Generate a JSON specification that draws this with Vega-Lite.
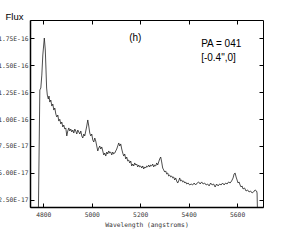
{
  "$schema": "https://vega.github.io/schema/vega-lite/v6.json",
  "width": 233,
  "height": 187,
  "autosize": {"type": "none"},
  "padding": {"left": 30, "top": 20, "right": 35, "bottom": 36},
  "config": {
    "view": {"stroke": "#000", "strokeWidth": 1},
    "axis": {"grid": false, "labelFont": "DejaVu Sans Mono", "labelFontSize": 6.3, "labelColor": "#333", "titleFont": "DejaVu Sans Mono", "titleFontSize": 6.3, "titleColor": "#333", "titleFontWeight": "normal", "tickColor": "#000", "domainColor": "#000"}
  },
  "datasets": {
    "spectrum": [
      {"wl": 4779.4, "flux": 1.0},
      {"wl": 4785.6, "flux": 12.69},
      {"wl": 4789.7, "flux": 12.87},
      {"wl": 4793.8, "flux": 14.07},
      {"wl": 4797.9, "flux": 15.93},
      {"wl": 4804.1, "flux": 17.5},
      {"wl": 4808.2, "flux": 16.39},
      {"wl": 4811.1, "flux": 14.54},
      {"wl": 4813.6, "flux": 12.87},
      {"wl": 4816.5, "flux": 12.22},
      {"wl": 4820.6, "flux": 11.85},
      {"wl": 4823.5, "flux": 12.13},
      {"wl": 4826.8, "flux": 11.57},
      {"wl": 4830.9, "flux": 11.76},
      {"wl": 4835.1, "flux": 11.2},
      {"wl": 4839.2, "flux": 11.39},
      {"wl": 4843.3, "flux": 10.83},
      {"wl": 4847.4, "flux": 11.02},
      {"wl": 4851.6, "flux": 10.46},
      {"wl": 4855.7, "flux": 10.19},
      {"wl": 4859.8, "flux": 10.37},
      {"wl": 4863.9, "flux": 9.81},
      {"wl": 4868.0, "flux": 9.98},
      {"wl": 4872.2, "flux": 9.54},
      {"wl": 4876.3, "flux": 9.72},
      {"wl": 4880.4, "flux": 9.26},
      {"wl": 4884.5, "flux": 9.44},
      {"wl": 4888.7, "flux": 9.07},
      {"wl": 4892.8, "flux": 9.17},
      {"wl": 4896.9, "flux": 8.43},
      {"wl": 4901.0, "flux": 8.89},
      {"wl": 4905.2, "flux": 9.17},
      {"wl": 4909.3, "flux": 8.89},
      {"wl": 4913.4, "flux": 9.07},
      {"wl": 4917.5, "flux": 8.8},
      {"wl": 4921.7, "flux": 8.98},
      {"wl": 4925.8, "flux": 8.7},
      {"wl": 4929.9, "flux": 9.07},
      {"wl": 4934.0, "flux": 8.89},
      {"wl": 4938.2, "flux": 8.61},
      {"wl": 4942.3, "flux": 8.98},
      {"wl": 4946.4, "flux": 8.8},
      {"wl": 4950.5, "flux": 8.61},
      {"wl": 4954.7, "flux": 8.89},
      {"wl": 4958.8, "flux": 8.43},
      {"wl": 4962.9, "flux": 8.24},
      {"wl": 4967.0, "flux": 8.61},
      {"wl": 4971.1, "flux": 8.43},
      {"wl": 4975.3, "flux": 8.89},
      {"wl": 4979.4, "flux": 9.35},
      {"wl": 4983.5, "flux": 9.91},
      {"wl": 4987.6, "flux": 9.35},
      {"wl": 4991.8, "flux": 8.7},
      {"wl": 4995.9, "flux": 8.43},
      {"wl": 5000.0, "flux": 8.61},
      {"wl": 5004.1, "flux": 8.06},
      {"wl": 5008.3, "flux": 7.87},
      {"wl": 5012.4, "flux": 8.24},
      {"wl": 5016.5, "flux": 7.96},
      {"wl": 5020.6, "flux": 7.5},
      {"wl": 5024.8, "flux": 7.04},
      {"wl": 5028.9, "flux": 7.31},
      {"wl": 5033.0, "flux": 7.5},
      {"wl": 5037.1, "flux": 7.22},
      {"wl": 5041.3, "flux": 7.41},
      {"wl": 5045.4, "flux": 7.04},
      {"wl": 5049.5, "flux": 6.67},
      {"wl": 5053.6, "flux": 6.85},
      {"wl": 5057.8, "flux": 6.57},
      {"wl": 5061.9, "flux": 6.94},
      {"wl": 5066.0, "flux": 6.76},
      {"wl": 5070.1, "flux": 7.04},
      {"wl": 5074.3, "flux": 6.85},
      {"wl": 5078.4, "flux": 6.94},
      {"wl": 5082.5, "flux": 6.67},
      {"wl": 5086.6, "flux": 6.94},
      {"wl": 5090.8, "flux": 6.76},
      {"wl": 5094.9, "flux": 6.85},
      {"wl": 5099.0, "flux": 7.04},
      {"wl": 5103.1, "flux": 7.22},
      {"wl": 5107.3, "flux": 7.5},
      {"wl": 5111.4, "flux": 7.78},
      {"wl": 5115.5, "flux": 7.5},
      {"wl": 5119.6, "flux": 7.69},
      {"wl": 5123.7, "flux": 7.22},
      {"wl": 5127.9, "flux": 6.85},
      {"wl": 5132.0, "flux": 6.57},
      {"wl": 5136.1, "flux": 6.76},
      {"wl": 5140.2, "flux": 6.3},
      {"wl": 5144.4, "flux": 6.48},
      {"wl": 5148.5, "flux": 6.11},
      {"wl": 5152.6, "flux": 6.2},
      {"wl": 5156.7, "flux": 5.93},
      {"wl": 5160.9, "flux": 6.11},
      {"wl": 5165.0, "flux": 5.65},
      {"wl": 5169.1, "flux": 5.83},
      {"wl": 5173.2, "flux": 5.65},
      {"wl": 5177.4, "flux": 5.93},
      {"wl": 5181.5, "flux": 5.74},
      {"wl": 5185.6, "flux": 5.83},
      {"wl": 5189.7, "flux": 5.56},
      {"wl": 5193.9, "flux": 5.74},
      {"wl": 5198.0, "flux": 5.56},
      {"wl": 5202.1, "flux": 5.65},
      {"wl": 5206.2, "flux": 5.46},
      {"wl": 5210.4, "flux": 5.65},
      {"wl": 5214.5, "flux": 5.37},
      {"wl": 5218.6, "flux": 5.56},
      {"wl": 5222.7, "flux": 5.46},
      {"wl": 5226.9, "flux": 5.65},
      {"wl": 5231.0, "flux": 5.56},
      {"wl": 5235.1, "flux": 5.74},
      {"wl": 5239.2, "flux": 5.56},
      {"wl": 5243.4, "flux": 5.74},
      {"wl": 5247.5, "flux": 5.65},
      {"wl": 5251.6, "flux": 5.83},
      {"wl": 5255.7, "flux": 5.56},
      {"wl": 5259.9, "flux": 5.74},
      {"wl": 5264.0, "flux": 5.65},
      {"wl": 5268.1, "flux": 5.93},
      {"wl": 5272.2, "flux": 5.74},
      {"wl": 5276.3, "flux": 6.02},
      {"wl": 5280.5, "flux": 6.3},
      {"wl": 5284.6, "flux": 6.48},
      {"wl": 5288.7, "flux": 6.02},
      {"wl": 5292.8, "flux": 5.46},
      {"wl": 5297.0, "flux": 5.28},
      {"wl": 5301.1, "flux": 5.09},
      {"wl": 5305.2, "flux": 5.19},
      {"wl": 5309.3, "flux": 4.91},
      {"wl": 5313.5, "flux": 5.0},
      {"wl": 5317.6, "flux": 4.72},
      {"wl": 5321.7, "flux": 4.81},
      {"wl": 5325.8, "flux": 4.63},
      {"wl": 5330.0, "flux": 4.72},
      {"wl": 5334.1, "flux": 4.54},
      {"wl": 5338.2, "flux": 4.63},
      {"wl": 5342.3, "flux": 4.35},
      {"wl": 5346.5, "flux": 4.54},
      {"wl": 5350.6, "flux": 4.26},
      {"wl": 5354.7, "flux": 4.07},
      {"wl": 5358.8, "flux": 4.26},
      {"wl": 5363.0, "flux": 4.54},
      {"wl": 5367.1, "flux": 4.26},
      {"wl": 5371.2, "flux": 4.35},
      {"wl": 5375.3, "flux": 4.17},
      {"wl": 5379.5, "flux": 4.26},
      {"wl": 5383.6, "flux": 4.07},
      {"wl": 5387.7, "flux": 4.17},
      {"wl": 5391.8, "flux": 3.98},
      {"wl": 5398.0, "flux": 4.07},
      {"wl": 5404.2, "flux": 3.89},
      {"wl": 5410.4, "flux": 3.98},
      {"wl": 5416.5, "flux": 3.89},
      {"wl": 5422.7, "flux": 4.07},
      {"wl": 5428.9, "flux": 3.89},
      {"wl": 5435.1, "flux": 4.07},
      {"wl": 5441.3, "flux": 4.17},
      {"wl": 5447.5, "flux": 3.98},
      {"wl": 5453.7, "flux": 4.17},
      {"wl": 5459.8, "flux": 3.98},
      {"wl": 5466.0, "flux": 4.07},
      {"wl": 5472.2, "flux": 3.89},
      {"wl": 5478.4, "flux": 3.98},
      {"wl": 5484.6, "flux": 3.8},
      {"wl": 5490.8, "flux": 4.07},
      {"wl": 5497.0, "flux": 3.89},
      {"wl": 5503.1, "flux": 3.98},
      {"wl": 5509.3, "flux": 3.7},
      {"wl": 5515.5, "flux": 3.98},
      {"wl": 5521.7, "flux": 3.8},
      {"wl": 5527.9, "flux": 3.98},
      {"wl": 5534.1, "flux": 3.89},
      {"wl": 5540.2, "flux": 4.07},
      {"wl": 5546.4, "flux": 3.89},
      {"wl": 5552.6, "flux": 4.07},
      {"wl": 5558.8, "flux": 3.98},
      {"wl": 5565.0, "flux": 4.17},
      {"wl": 5571.2, "flux": 4.07},
      {"wl": 5577.4, "flux": 4.26},
      {"wl": 5583.5, "flux": 4.54},
      {"wl": 5587.7, "flux": 4.91},
      {"wl": 5591.8, "flux": 5.0},
      {"wl": 5595.9, "flux": 4.63},
      {"wl": 5600.0, "flux": 4.35},
      {"wl": 5604.1, "flux": 4.07},
      {"wl": 5608.2, "flux": 4.17},
      {"wl": 5612.4, "flux": 3.89},
      {"wl": 5616.5, "flux": 3.7},
      {"wl": 5620.6, "flux": 3.8},
      {"wl": 5624.7, "flux": 3.52},
      {"wl": 5630.9, "flux": 3.61},
      {"wl": 5637.1, "flux": 3.33},
      {"wl": 5643.3, "flux": 3.43},
      {"wl": 5649.5, "flux": 3.24},
      {"wl": 5655.7, "flux": 3.33},
      {"wl": 5661.9, "flux": 3.15},
      {"wl": 5668.0, "flux": 3.24},
      {"wl": 5674.2, "flux": 3.43},
      {"wl": 5680.4, "flux": 3.33},
      {"wl": 5682.5, "flux": 3.15},
      {"wl": 5684.6, "flux": 1.0}
    ],
    "notes": [
      {"label": "(h)", "wl": 5154.7, "flux": 17.22},
      {"label": "PA = 041", "wl": 5451.6, "flux": 16.67},
      {"label": "[-0.4\",0]", "wl": 5451.6, "flux": 15.37}
    ]
  },
  "layer": [
    {
      "data": {"name": "spectrum"},
      "mark": {"type": "line", "color": "#222", "strokeWidth": 0.8, "clip": true},
      "encoding": {
        "x": {"field": "wl", "type": "quantitative", "scale": {"domain": [4745, 5707], "nice": false, "zero": false},
          "axis": {"orient": "bottom", "values": [4800, 5000, 5200, 5400, 5600], "format": "d", "tickSize": -4, "labelPadding": 8, "domainWidth": 1.5, "title": "Wavelength (angstroms)", "titlePadding": 4}},
        "y": {"field": "flux", "type": "quantitative", "scale": {"domain": [1.85, 19.17], "nice": false, "zero": false},
          "axis": {"orient": "left", "values": [2.5, 5, 7.5, 10, 12.5, 15, 17.5], "tickSize": -4, "labelPadding": 6, "domainWidth": 1.5,
            "labelExpr": "upper(format(datum.value * 1e-17, '.2e'))",
            "title": "Flux", "titleAngle": 0, "titleAlign": "left", "titleBaseline": "alphabetic", "titleX": -25, "titleY": -1,
            "titleFont": "Liberation Sans", "titleFontSize": 9.5, "titleColor": "#000"}}
      }
    },
    {
      "data": {"name": "spectrum"},
      "mark": {"type": "line", "opacity": 0},
      "encoding": {
        "x": {"field": "wl", "type": "quantitative",
          "axis": {"orient": "top", "values": [4800, 5000, 5200, 5400, 5600], "tickSize": -4, "labels": false, "domain": false, "title": null}},
        "y": {"field": "flux", "type": "quantitative",
          "axis": {"orient": "right", "values": [2.5, 5, 7.5, 10, 12.5, 15, 17.5], "tickSize": -4, "labels": false, "domain": false, "title": null}}
      }
    },
    {
      "data": {"name": "notes"},
      "mark": {"type": "text", "align": "left", "baseline": "alphabetic", "font": "Liberation Sans", "fontSize": 10, "color": "#000"},
      "encoding": {
        "x": {"field": "wl", "type": "quantitative", "axis": null},
        "y": {"field": "flux", "type": "quantitative", "axis": null},
        "text": {"field": "label"}
      }
    }
  ],
  "resolve": {"axis": {"x": "independent", "y": "independent"}}
}
